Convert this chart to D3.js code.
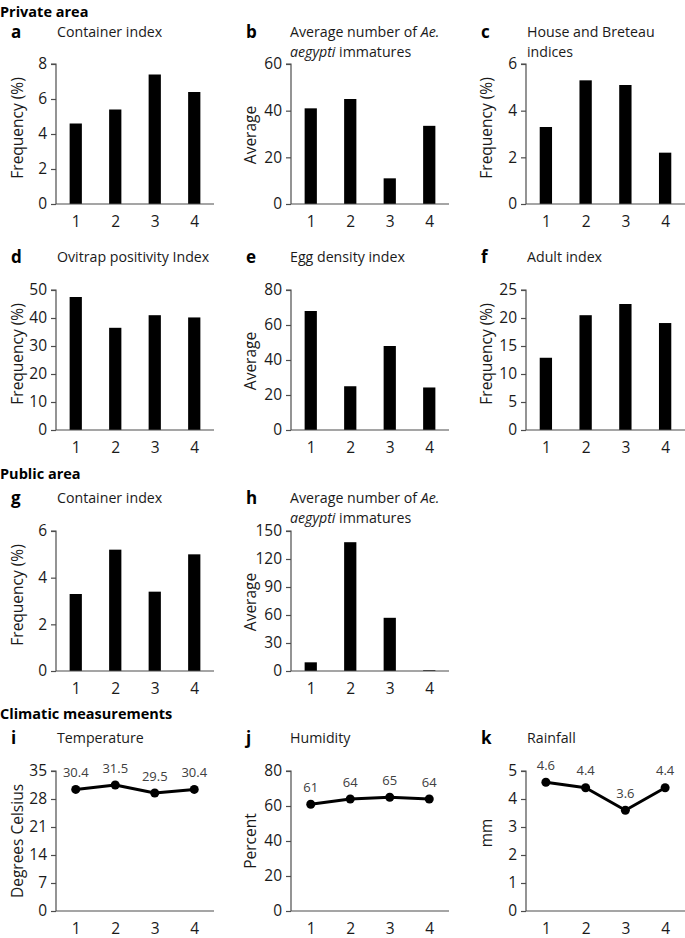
<!DOCTYPE html>
<html>
<head>
<meta charset="utf-8">
<script src="https://cdn.jsdelivr.net/npm/d3@7"></script>
<style>
  html, body { margin: 0; padding: 0; background: #fff; }
  svg { display: block; font-family: "Open Sans", "Noto Sans", sans-serif; }
</style>
</head>
<body>
<svg id="chart" width="685" height="938"></svg>
<script>
// ---------------- DATA ----------------
const categories = ["1", "2", "3", "4"];

const containerIndexPrivate = [4.6, 5.4, 7.4, 6.4];
const immaturesPrivate      = [41, 45, 11, 33.5];
const houseBreteauIndices   = [3.3, 5.3, 5.1, 2.2];
const ovitrapPositivity     = [47.5, 36.5, 41, 40.2];
const eggDensity            = [68, 25, 48, 24.3];
const adultIndex            = [12.9, 20.5, 22.5, 19.1];
const containerIndexPublic  = [3.3, 5.2, 3.4, 5.0];
const immaturesPublic       = [9.3, 138, 57, 0.8];
const temperature           = [30.4, 31.5, 29.5, 30.4];
const humidity              = [61, 64, 65, 64];
const rainfall              = [4.6, 4.4, 3.6, 4.4];

const ticksA = [0, 2, 4, 6, 8];
const ticksB = [0, 20, 40, 60];
const ticksC = [0, 2, 4, 6];
const ticksD = [0, 10, 20, 30, 40, 50];
const ticksE = [0, 20, 40, 60, 80];
const ticksF = [0, 5, 10, 15, 20, 25];
const ticksG = [0, 2, 4, 6];
const ticksH = [0, 30, 60, 90, 120, 150];
const ticksI = [0, 7, 14, 21, 28, 35];
const ticksJ = [0, 20, 40, 60, 80];
const ticksK = [0, 1, 2, 3, 4, 5];

const sectionHeadings = ["Private area", "Public area", "Climatic measurements"];

// ---------------- LAYOUT ----------------
const cols = [
  { axisX: 56,  right: 214, letterX: 11,  titleX: 57,  labelX: 18 },
  { axisX: 291, right: 449, letterX: 246, titleX: 290, labelX: 251 },
  { axisX: 526, right: 685, letterX: 481, titleX: 527, labelX: 487 }
];
const rows = [
  { top: 64,  bottom: 204, titleY: 32 },
  { top: 290, bottom: 430, titleY: 257 },
  { top: 531, bottom: 671, titleY: 498 },
  { top: 771, bottom: 911, titleY: 738 }
];
const headingY = [12, 474, 714];

const panels = [
  { letter: "a", row: 0, col: 0, type: "bar",  values: containerIndexPrivate, ticks: ticksA, ylab: "Frequency (%)", title: [[["Container index", false]]] },
  { letter: "b", row: 0, col: 1, type: "bar",  values: immaturesPrivate, ticks: ticksB, ylab: "Average",
    title: [[["Average number of ", false], ["Ae.", true]], [["aegypti", true], [" immatures", false]]] },
  { letter: "c", row: 0, col: 2, type: "bar",  values: houseBreteauIndices, ticks: ticksC, ylab: "Frequency (%)",
    title: [[["House and Breteau", false]], [["indices", false]]] },
  { letter: "d", row: 1, col: 0, type: "bar",  values: ovitrapPositivity, ticks: ticksD, ylab: "Frequency (%)", title: [[["Ovitrap positivity Index", false]]] },
  { letter: "e", row: 1, col: 1, type: "bar",  values: eggDensity, ticks: ticksE, ylab: "Average", title: [[["Egg density index", false]]] },
  { letter: "f", row: 1, col: 2, type: "bar",  values: adultIndex, ticks: ticksF, ylab: "Frequency (%)", title: [[["Adult index", false]]] },
  { letter: "g", row: 2, col: 0, type: "bar",  values: containerIndexPublic, ticks: ticksG, ylab: "Frequency (%)", title: [[["Container index", false]]] },
  { letter: "h", row: 2, col: 1, type: "bar",  values: immaturesPublic, ticks: ticksH, ylab: "Average",
    title: [[["Average number of ", false], ["Ae.", true]], [["aegypti", true], [" immatures", false]]] },
  { letter: "i", row: 3, col: 0, type: "line", values: temperature, ticks: ticksI, ylab: "Degrees Celsius", title: [[["Temperature", false]]] },
  { letter: "j", row: 3, col: 1, type: "line", values: humidity, ticks: ticksJ, ylab: "Percent", title: [[["Humidity", false]]] },
  { letter: "k", row: 3, col: 2, type: "line", values: rainfall, ticks: ticksK, ylab: "mm", title: [[["Rainfall", false]]] }
];

const labelOffset = { "Frequency (%)": -6, "Average": 1, "Degrees Celsius": 0, "Percent": 0, "mm": -8 };

const svg = d3.select("#chart");
const axisColor = "#4d4d4d";
const textColor = "#1a1a1a";

// headings
sectionHeadings.forEach((h, i) => {
  svg.append("text")
    .attr("x", 0).attr("y", headingY[i]).attr("dy", "0.35em")
    .attr("font-size", 14.5).attr("font-weight", 700).attr("fill", "#000")
    .text(h);
});

panels.forEach(p => {
  const c = cols[p.col], r = rows[p.row];
  const g = svg.append("g");
  const maxT = p.ticks[p.ticks.length - 1];
  const y = d3.scaleLinear().domain([0, maxT]).range([r.bottom, r.top]);

  // letter
  g.append("text")
    .attr("x", c.letterX).attr("y", r.titleY).attr("dy", "0.35em")
    .attr("font-size", 17).attr("font-weight", 700).attr("fill", "#000")
    .text(p.letter);

  // title lines
  p.title.forEach((line, li) => {
    const t = g.append("text")
      .attr("x", c.titleX).attr("y", r.titleY + li * 20).attr("dy", "0.35em")
      .attr("font-size", 14.2).attr("fill", textColor);
    line.forEach(([s, it]) => {
      t.append("tspan").attr("font-style", it ? "italic" : "normal").text(s);
    });
  });

  // y axis
  const yAxis = d3.axisLeft(y).tickValues(p.ticks).tickSize(5).tickPadding(4).tickFormat(d3.format("d"));
  const ya = g.append("g").attr("transform", `translate(${c.axisX},0)`).call(yAxis);
  ya.select(".domain").attr("stroke", axisColor).attr("stroke-width", 1.2);
  ya.selectAll(".tick line").attr("stroke", axisColor).attr("stroke-width", 1.2);
  ya.selectAll(".tick text").attr("font-size", 15.5).attr("fill", textColor).attr("font-family", "Open Sans, sans-serif");
  ya.select(".domain").attr("d", `M-5,${r.top}H0V${r.bottom}`);

  // x scale
  let xpos;
  if (p.type === "bar") {
    const x = d3.scaleBand().domain(categories).range([c.axisX, c.right]).paddingInner(0.69).paddingOuter(0.345);
    g.selectAll("rect.bar").data(p.values).join("rect")
      .attr("class", "bar")
      .attr("x", (d, i) => x(categories[i]))
      .attr("width", x.bandwidth())
      .attr("y", d => y(d))
      .attr("height", d => y(0) - y(d))
      .attr("fill", "#000");
    xpos = cat => x(cat) + x.bandwidth() / 2;
  } else {
    const x = d3.scalePoint().domain(categories).range([c.axisX, c.right]).padding(0.5);
    xpos = cat => x(cat);
  }

  // x axis
  const xAxisScale = d3.scalePoint().domain(categories).range([c.axisX, c.right]).padding(0.5);
  const xa = g.append("g").attr("transform", `translate(0,${r.bottom})`)
    .call(d3.axisBottom(xAxisScale).tickSize(0).tickPadding(12));
  xa.select(".domain").attr("stroke", axisColor).attr("stroke-width", 1.2)
    .attr("d", `M${c.axisX},0H${c.right}`);
  xa.selectAll(".tick text").attr("font-size", 15.5).attr("fill", textColor).attr("font-family", "Open Sans, sans-serif");

  if (p.type === "line") {
    const line = d3.line().x((d, i) => xpos(categories[i])).y(d => y(d));
    g.append("path").datum(p.values).attr("d", line)
      .attr("fill", "none").attr("stroke", "#000").attr("stroke-width", 3).attr("stroke-linejoin", "round");
    g.selectAll("circle.pt").data(p.values).join("circle")
      .attr("class", "pt")
      .attr("cx", (d, i) => xpos(categories[i])).attr("cy", d => y(d)).attr("r", 4.5)
      .attr("fill", "#000");
    g.selectAll("text.dl").data(p.values).join("text")
      .attr("class", "dl")
      .attr("x", (d, i) => xpos(categories[i])).attr("y", d => y(d) - 17).attr("dy", "0.35em")
      .attr("text-anchor", "middle").attr("font-size", 13).attr("fill", "#404040")
      .text(d => d);
  }

  // y label
  const cy = (r.top + r.bottom) / 2 + (labelOffset[p.ylab] || 0);
  g.append("text")
    .attr("transform", `translate(${c.labelX},${cy}) rotate(-90)`)
    .attr("text-anchor", "middle").attr("dy", "0.35em")
    .attr("font-size", 15.5).attr("fill", textColor)
    .text(p.ylab);
});
</script>
</body>
</html>
